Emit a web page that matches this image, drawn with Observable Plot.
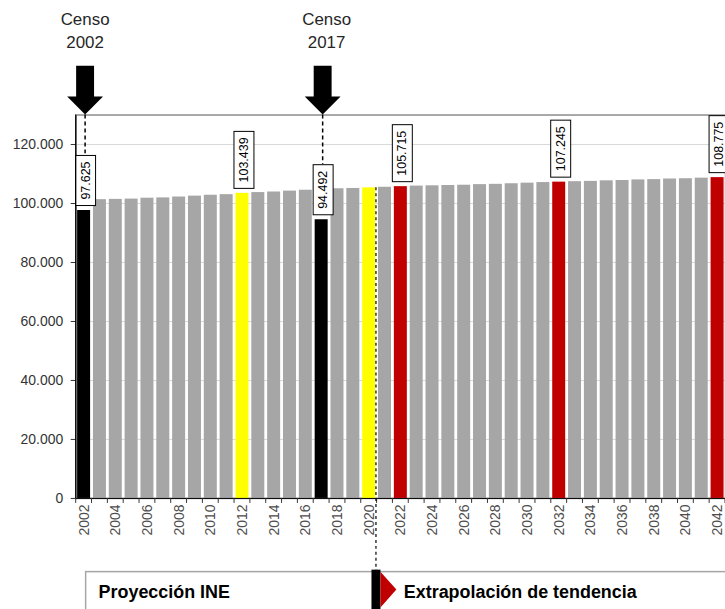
<!DOCTYPE html>
<html>
<head>
<meta charset="utf-8">
<script src="https://cdn.jsdelivr.net/npm/d3@7"></script>
<script src="https://cdn.jsdelivr.net/npm/@observablehq/plot@0.6"></script>
<style>
  html, body { margin: 0; padding: 0; background: #fff; overflow: hidden; width: 725px; height: 609px; }
</style>
</head>
<body>
<script>
// ---- data ----
const years = [2002, 2003, 2004, 2005, 2006, 2007, 2008, 2009, 2010, 2011, 2012, 2013, 2014, 2015, 2016, 2017, 2018, 2019, 2020, 2021, 2022, 2023, 2024, 2025, 2026, 2027, 2028, 2029, 2030, 2031, 2032, 2033, 2034, 2035, 2036, 2037, 2038, 2039, 2040, 2041, 2042];
const values = [97625, 101300, 101400, 101500, 101800, 101900, 102200, 102500, 102800, 103000, 103439, 103700, 103900, 104200, 104500, 94492, 105000, 105100, 105300, 105500, 105715, 105900, 106000, 106100, 106200, 106400, 106500, 106700, 106900, 107100, 107245, 107400, 107500, 107700, 107800, 108000, 108100, 108300, 108400, 108600, 108775];
const censusYears = [2002, 2017];
const yellowYears = [2012, 2020];
const redYears = [2022, 2032, 2042];
const labeledYears = [2002, 2012, 2017, 2022, 2032, 2042];
const xTickLabels = [2002, 2004, 2006, 2008, 2010, 2012, 2014, 2016, 2018, 2020, 2022, 2024, 2026, 2028, 2030, 2032, 2034, 2036, 2038, 2040, 2042];
const yTicks = [0, 20000, 40000, 60000, 80000, 100000, 120000];
const kinds = ["censo", "proyeccion", "intermedio", "hito"];
const kindColors = ["#000000", "#a6a6a6", "#ffff00", "#c00000"];
const splitYear = 2020;
const legendLeft = "Proyección INE";
const legendRight = "Extrapolación de tendencia";
const censusTitle = "Censo";

(function () {
// ---- build table ----
const kindOf = y => censusYears.includes(y) ? "censo" : yellowYears.includes(y) ? "intermedio" : redYears.includes(y) ? "hito" : "proyeccion";
const rows = years.map((y, i) => ({year: y, value: values[i], kind: kindOf(y)}));
const labelRows = rows.filter(d => labeledYears.includes(d.year));

const loc = d3.formatLocale({decimal: ",", thousands: ".", grouping: [3], currency: ["", ""]});
const fmt = loc.format(",d");
const FONT = '"Liberation Sans", Arial, sans-serif';

const plot = Plot.plot({
  width: 728,
  height: 609,
  marginTop: 115,
  marginBottom: 109,
  marginLeft: 76,
  marginRight: 0,
  style: {fontFamily: FONT, background: "white", color: "#333", overflow: "visible"},
  x: {type: "band", domain: years, paddingInner: 0.18, paddingOuter: 0.09, axis: null},
  y: {domain: [0, 130000], axis: null},
  color: {domain: kinds, range: kindColors},
  marks: [
    Plot.gridY(yTicks, {stroke: "#d9d9d9", strokeOpacity: 1}),
    Plot.frame({stroke: "#8c8c8c", strokeWidth: 1.5}),
    Plot.barY(rows, {x: "year", y: "value", fill: "kind"}),
    Plot.axisY({ticks: yTicks, tickSize: 5, tickPadding: 8, tickFormat: fmt, fontSize: 14, label: null}),
    Plot.axisX({ticks: xTickLabels, tickSize: 0, tickPadding: 6, tickRotate: -90, fontSize: 14, tickFormat: d => String(d), label: null, color: "#4d4d4d"}),
    Plot.ruleY([0], {stroke: "#000"}),
    Plot.text(labelRows, {x: "year", y: "value", text: d => fmt(d.value), rotate: -90, textAnchor: "start", lineAnchor: "middle", dy: -11, dx: 1.5, fontSize: 12.5, fill: "#000"})
  ]
});
document.body.appendChild(plot);

// ---- annotations positioned from Plot's scales ----
const xs = plot.scale("x"), ys = plot.scale("y");
const bw = xs.bandwidth;
const step = xs.apply(years[1]) - xs.apply(years[0]);
const cx = yr => xs.apply(yr) + bw / 2;
const yTop = ys.apply(130000), yBase = ys.apply(0);
const svg = d3.select(plot);
const svgTop = plot.getBoundingClientRect().top;

// boxes behind value labels
const labelText = new Map(labelRows.map(d => [fmt(d.value), d.year]));
const boxTops = {};
svg.selectAll("text").filter(function () { return labelText.has(this.textContent); }).each(function () {
  const bb = this.getBBox();
  const r = document.createElementNS("http://www.w3.org/2000/svg", "rect");
  r.setAttribute("x", bb.x - 6);
  r.setAttribute("y", bb.y - 3);
  r.setAttribute("width", bb.width + 12);
  r.setAttribute("height", bb.height + 6);
  r.setAttribute("fill", "#fff");
  r.setAttribute("stroke", "#000");
  r.setAttribute("stroke-width", 1);
  const tf = this.getAttribute("transform");
  if (tf) r.setAttribute("transform", tf);
  this.parentNode.insertBefore(r, this);
  boxTops[labelText.get(this.textContent)] = r.getBoundingClientRect().top - svgTop;
});

const g = svg.append("g").attr("text-anchor", "start");
// left axis line
const x0 = xs.apply(years[0]) - (step - bw) / 2;
g.append("line").attr("x1", x0).attr("x2", x0)
  .attr("y1", yTop).attr("y2", yBase).attr("stroke", "#000").attr("stroke-width", 1.2);
// category boundary ticks
const bounds = years.map(y => xs.apply(y) - (step - bw) / 2);
bounds.push(bounds[bounds.length - 1] + step);
bounds.forEach(bx => g.append("line").attr("x1", bx).attr("x2", bx).attr("y1", yBase).attr("y2", yBase + 5).attr("stroke", "#333"));

// census arrows, titles and dashed leaders
censusYears.forEach(yr => {
  const x = cx(yr) + 1.5;
  g.append("path")
    .attr("d", `M${x - 9},66 L${x + 9},66 L${x + 9},97 L${x + 18},97 L${x},${yTop} L${x - 18},97 L${x - 9},97 Z`)
    .attr("fill", "#000");
  const yEnd = boxTops[yr] !== undefined ? boxTops[yr] : ys.apply(values[years.indexOf(yr)]);
  g.append("line").attr("x1", x).attr("x2", x).attr("y1", yTop).attr("y2", yEnd)
    .attr("stroke", "#000").attr("stroke-width", 1.5).attr("stroke-dasharray", "4,3");
  const t = g.append("text").attr("text-anchor", "middle").attr("font-size", 17).attr("fill", "#262626")
    .attr("font-family", FONT);
  t.append("tspan").attr("x", x + (yr === 2017 ? 4 : 0)).attr("y", 25).text(censusTitle);
  t.append("tspan").attr("x", x + (yr === 2017 ? 4 : 0)).attr("y", 48).text(String(yr));
});

// split dashed line (2020)
const splitX = xs.apply(splitYear) + bw + 0.8;
const splitVal = values[years.indexOf(splitYear)];
g.append("line").attr("x1", splitX).attr("x2", splitX).attr("y1", ys.apply(splitVal)).attr("y2", 574)
  .attr("stroke", "#000").attr("stroke-width", 1.2).attr("stroke-dasharray", "3,3");

// bottom legend strip
g.append("rect").attr("x", 86).attr("y", 574).attr("width", 700).attr("height", 60)
  .attr("fill", "#fff").attr("stroke", "#a6a6a6").attr("stroke-width", 1.5);
g.append("rect").attr("x", splitX - 4.5).attr("y", 572).attr("width", 9).attr("height", 40).attr("fill", "#000");
g.append("path").attr("d", `M${splitX + 4.5},574 L${splitX + 20.5},592 L${splitX + 4.5},610 Z`).attr("fill", "#c00000");
g.append("text").attr("x", 99).attr("y", 600).attr("font-size", 18).attr("font-weight", "bold")
  .attr("font-family", FONT).attr("fill", "#000").text(legendLeft);
g.append("text").attr("x", splitX + 28).attr("y", 600).attr("font-size", 18).attr("font-weight", "bold")
  .attr("font-family", FONT).attr("fill", "#000").text(legendRight);
})();
</script>
</body>
</html>
